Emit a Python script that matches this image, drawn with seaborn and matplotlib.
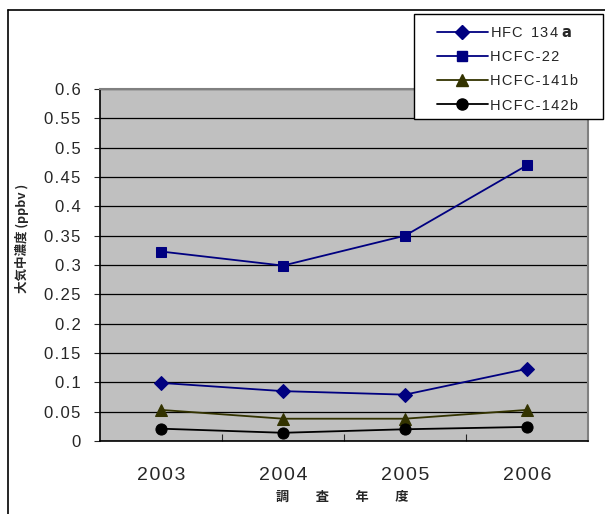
import pandas as pd
import numpy as np
import seaborn as sns
import matplotlib.pyplot as plt
from matplotlib.lines import Line2D
from matplotlib.patches import Rectangle

# 調査年度ごとの大気中濃度 (ppbv)
years = ['2003', '2004', '2005', '2006']
hfc134a = [0.099, 0.085, 0.079, 0.123]
hcfc22 = [0.323, 0.299, 0.350, 0.470]
hcfc141b = [0.053, 0.038, 0.038, 0.053]
hcfc142b = [0.021, 0.014, 0.020, 0.024]
series_names = ['HFC 134a', 'HCFC-22', 'HCFC-141b', 'HCFC-142b']

hs = '\u200a'  # 字間を少し空ける
legend_labels = [hs.join('HFC') + '  ' + hs.join('134') + r' $\bf{a}$',
                 hs.join('HCFC-22'), hs.join('HCFC-141b'), hs.join('HCFC-142b')]

df = pd.DataFrame({
    'year': years * 4,
    'value': hfc134a + hcfc22 + hcfc141b + hcfc142b,
    'name': [n for n in series_names for _ in years],
})

sns.set_style('white')
plt.rcParams['font.family'] = ['Liberation Sans', 'Noto Sans CJK JP', 'DejaVu Sans']

colors = {'HFC 134a': '#000080', 'HCFC-22': '#000080',
          'HCFC-141b': '#333300', 'HCFC-142b': '#000000'}
markers = {'HFC 134a': 'D', 'HCFC-22': 's', 'HCFC-141b': '^', 'HCFC-142b': 'o'}
msize = {'HFC 134a': 7, 'HCFC-22': 7.5, 'HCFC-141b': 8.5, 'HCFC-142b': 8}

fig = plt.figure(figsize=(6.05, 5.14), dpi=100)
ax = fig.add_axes([100/605, 1-441/514, 488/605, 352/514])
ax.set_facecolor('#c0c0c0')

for n in series_names:
    sub = df[df['name'] == n]
    sns.lineplot(data=sub, x='year', y='value', ax=ax, color=colors[n],
                 marker=markers[n], markersize=msize[n], markeredgecolor=colors[n],
                 linewidth=1.3, sort=False, zorder=3)

ax.set_xlim(-0.5, 3.5)
ax.set_ylim(0, 0.6)
yt = np.round(np.arange(0, 0.61, 0.05), 2)
ax.set_yticks(yt)
ax.set_yticklabels([hs.join(f'{v:g}') for v in yt], fontsize=12)
ax.yaxis.grid(True, color='black', linewidth=0.9)
ax.set_axisbelow(True)
ax.tick_params(axis='y', direction='out', length=4, width=0.8, left=True, pad=10)

ax.set_xticks(range(4))
ax.set_xticklabels([hs.join(y) for y in years], fontsize=14)
ax.set_xticks([0.5, 1.5, 2.5], minor=True)
ax.tick_params(axis='x', which='major', length=0, pad=19)
ax.tick_params(axis='x', which='minor', direction='in', length=5, width=0.8, bottom=True)
ax.set_xlabel('')
ax.set_ylabel('')

for s in ['left', 'bottom']:
    ax.spines[s].set_color('black')
    ax.spines[s].set_linewidth(1.2)
for s in ['top', 'right']:
    ax.spines[s].set_color('#808080')
    ax.spines[s].set_linewidth(1.5)

# 軸ラベル
fig.text(22/605, 1-238/514, '大気中濃度 (ppbv )', rotation=90, fontsize=9,
         fontweight='bold', ha='center', va='center',
         family=['Noto Sans CJK JP', 'DejaVu Sans'])
fig.text(342/605, 1-497/514, '調　　査　　年　　度', fontsize=9.5, fontweight='bold',
         ha='center', va='center', family=['Noto Sans CJK JP', 'DejaVu Sans'])

# 凡例 (枠は別に描く)
fig.add_artist(Rectangle((414/605, 1-119/514), 189/605, 105/514, facecolor='white',
                         edgecolor='black', linewidth=1.0, transform=fig.transFigure,
                         zorder=4))
handles = [Line2D([], [], color=colors[n], marker=markers[n], markersize=msize[n],
                  markeredgecolor=colors[n], linewidth=1.3) for n in series_names]
leg = fig.legend(handles, legend_labels, loc='upper left',
                 bbox_to_anchor=(434/605, 1-23/514), bbox_transform=fig.transFigure,
                 borderaxespad=0, fontsize=10.5, handlelength=3.5, labelspacing=0.7,
                 handletextpad=0.15, borderpad=0.2, frameon=False)
leg.set_zorder(5)

# 外枠
fig.add_artist(Line2D([8/605, 8/605], [0, 1-10/514], color='black', linewidth=1.2,
                      transform=fig.transFigure))
fig.add_artist(Line2D([8/605, 1], [1-10/514, 1-10/514], color='black', linewidth=1.2,
                      transform=fig.transFigure))

fig.savefig('out.png', dpi=100)
